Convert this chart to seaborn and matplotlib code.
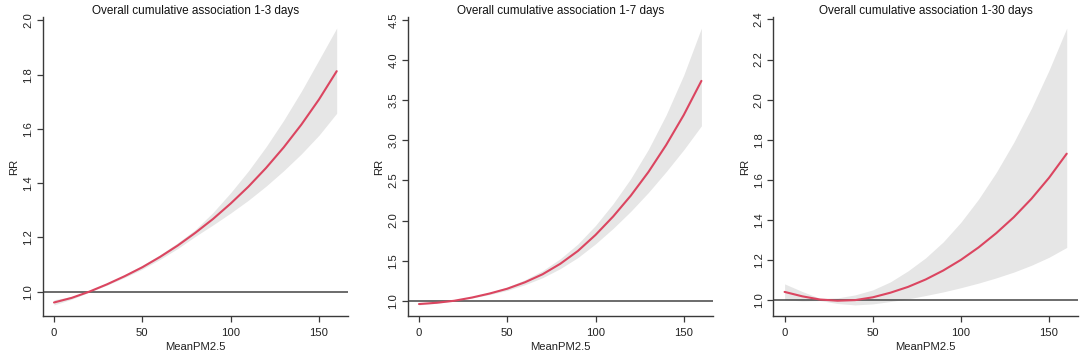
import numpy as np
import pandas as pd
import matplotlib
matplotlib.use("Agg")
import matplotlib.pyplot as plt
import seaborn as sns

# ---------------- data ----------------
pm25 = [0, 10, 20, 30, 40, 50, 60, 70, 80, 90, 100, 110, 120, 130, 140, 150, 160]

titles = ["Overall cumulative association 1-3 days",
          "Overall cumulative association 1-7 days",
          "Overall cumulative association 1-30 days"]

rr_1_3 = [0.960, 0.977, 1.000, 1.027, 1.057, 1.090, 1.128, 1.170, 1.217, 1.268,
          1.325, 1.387, 1.456, 1.532, 1.616, 1.709, 1.813]
hi_1_3 = [0.970, 0.982, 1.002, 1.031, 1.062, 1.097, 1.136, 1.180, 1.229, 1.292,
          1.365, 1.445, 1.534, 1.632, 1.739, 1.855, 1.972]
lo_1_3 = [0.951, 0.972, 0.998, 1.024, 1.052, 1.083, 1.119, 1.159, 1.204, 1.246,
          1.290, 1.337, 1.389, 1.446, 1.508, 1.577, 1.658]

rr_1_7 = [0.959, 0.975, 1.000, 1.040, 1.090, 1.150, 1.230, 1.330, 1.460, 1.620,
          1.820, 2.050, 2.310, 2.605, 2.940, 3.315, 3.740]
hi_1_7 = [0.971, 0.981, 1.000, 1.046, 1.103, 1.171, 1.261, 1.375, 1.523, 1.707,
          1.938, 2.210, 2.523, 2.888, 3.315, 3.813, 4.398]
lo_1_7 = [0.948, 0.969, 1.000, 1.034, 1.077, 1.129, 1.200, 1.287, 1.400, 1.538,
          1.709, 1.902, 2.115, 2.350, 2.608, 2.882, 3.180]

rr_1_30 = [1.040, 1.018, 1.002, 0.996, 0.999, 1.013, 1.036, 1.065, 1.102, 1.147,
           1.200, 1.262, 1.333, 1.413, 1.505, 1.610, 1.730]
hi_1_30 = [1.080, 1.042, 1.008, 1.010, 1.025, 1.050, 1.090, 1.145, 1.210, 1.290,
           1.388, 1.503, 1.636, 1.787, 1.957, 2.147, 2.357]
lo_1_30 = [1.001, 0.995, 0.997, 0.982, 0.975, 0.980, 0.992, 1.005, 1.022, 1.040,
           1.061, 1.084, 1.110, 1.139, 1.173, 1.213, 1.262]

x_ticks = [0, 50, 100, 150]
y_ticks_1_3 = [1.0, 1.2, 1.4, 1.6, 1.8, 2.0]
y_ticks_1_7 = [1.0, 1.5, 2.0, 2.5, 3.0, 3.5, 4.0, 4.5]
y_ticks_1_30 = [1.0, 1.2, 1.4, 1.6, 1.8, 2.0, 2.2, 2.4]

x_label = "MeanPM2.5"
y_label = "RR"

panels = [
    (titles[0], rr_1_3, hi_1_3, lo_1_3, y_ticks_1_3),
    (titles[1], rr_1_7, hi_1_7, lo_1_7, y_ticks_1_7),
    (titles[2], rr_1_30, hi_1_30, lo_1_30, y_ticks_1_30),
]

# ---------------- style ----------------
sns.set_style("ticks")
plt.rcParams["font.family"] = ["Liberation Sans", "DejaVu Sans"]
axis_col = "#3a3a3a"
line_col = "#DB4560"
band_col = "#E6E6E6"

fig = plt.figure(figsize=(10.84, 3.60), dpi=100)
W, H = 1084.0, 360.0
lefts = [42.7, 407.7, 773.3]
rights = [348.0, 712.7, 1078.0]
top_px, bot_px = 17.0, 316.0

for i, (title, rr, hi, lo, yt) in enumerate(panels):
    ax = fig.add_axes([lefts[i] / W, (H - bot_px) / H,
                       (rights[i] - lefts[i]) / W, (bot_px - top_px) / H])
    df = pd.DataFrame({"x": pm25, "rr": rr, "hi": hi, "lo": lo})
    ax.fill_between(df["x"], df["lo"], df["hi"], color=band_col, linewidth=0, zorder=1)
    ax.axhline(1.0, color="#444444", linewidth=1.1, zorder=2)
    sns.lineplot(data=df, x="x", y="rr", ax=ax, color=line_col, linewidth=1.5,
                 zorder=3, legend=False)

    # R-style 4% axis extension
    xr = max(pm25) - min(pm25)
    ax.set_xlim(min(pm25) - 0.04 * xr, max(pm25) + 0.04 * xr)
    ylo, yhi = min(lo), max(hi)
    yr = yhi - ylo
    ax.set_ylim(ylo - 0.04 * yr, yhi + 0.04 * yr)

    ax.set_xticks(x_ticks)
    ax.set_xticklabels([str(t) for t in x_ticks])
    ax.set_yticks(yt)
    ax.set_yticklabels([f"{t:.1f}" for t in yt], rotation=90, va="center")

    for s in ["top", "right"]:
        ax.spines[s].set_visible(False)
    for s in ["left", "bottom"]:
        ax.spines[s].set_color(axis_col)
        ax.spines[s].set_linewidth(1.0)
    ax.tick_params(axis="both", direction="out", length=4.3, width=0.9,
                   color=axis_col, labelsize=8.1, labelcolor="#222222")
    ax.tick_params(axis="x", pad=4.0)
    ax.tick_params(axis="y", pad=2.5)

    ax.set_xlabel(x_label, fontsize=8.1, color="#222222", labelpad=3.5)
    ax.set_ylabel(y_label, fontsize=8.1, color="#222222", labelpad=3.0)
    ax.set_title(title, fontsize=8.5, color="#111111", pad=2)

fig.savefig("out.png", dpi=100, facecolor="white")
